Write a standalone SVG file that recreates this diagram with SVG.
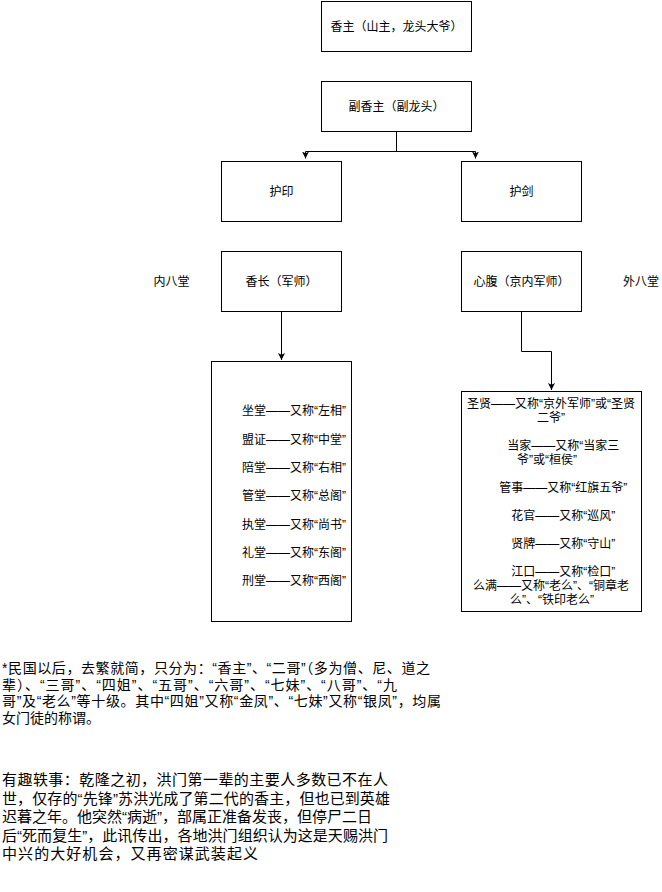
<svg xmlns="http://www.w3.org/2000/svg" width="662" height="892" viewBox="0 0 662 892">
<style>
.box{fill:#fff;stroke:#000;stroke-width:1}
.t{font-family:"Liberation Sans","Noto Sans CJK SC",sans-serif;font-size:12px;fill:#000}
.c{text-anchor:middle}
.p1{font-size:14px}
.p2{font-size:15px}
.edge{fill:none;stroke:#000;stroke-width:1}
</style>
<defs>
<marker id="arr" markerUnits="userSpaceOnUse" viewBox="0 0 7 7" refX="7" refY="3.5" markerWidth="7" markerHeight="7" orient="auto">
<path d="M0,0 L7,3.5 L0,7 L1.75,3.5 Z" fill="#000"/>
</marker>
</defs>
<rect width="662" height="892" fill="#fff"/>
<g id="connectors">
<path class="edge" d="M396.5,131.5 V151.5 H305.5 V158.5" marker-end="url(#arr)"/>
<path class="edge" d="M396.5,131.5 V151.5 H475.5 V158.5" marker-end="url(#arr)"/>
<path class="edge" d="M281.5,311.5 V360" marker-end="url(#arr)"/>
<path class="edge" d="M521.5,311.5 V351.5 H551.5 V390" marker-end="url(#arr)"/>
</g>
<g id="xiangzhu">
<rect class="box" x="321.5" y="1.5" width="150" height="50"/>
<text class="t c" x="396.5" y="31">香主（山主，龙头大爷）</text>
</g>
<g id="fuxiangzhu">
<rect class="box" x="321.5" y="81.5" width="150" height="50"/>
<text class="t c" x="396.5" y="111">副香主（副龙头）</text>
</g>
<g id="huyin">
<rect class="box" x="221.5" y="161.5" width="120" height="60"/>
<text class="t c" x="281.5" y="196">护印</text>
</g>
<g id="hujian">
<rect class="box" x="461.5" y="161.5" width="120" height="60"/>
<text class="t c" x="521.5" y="196">护剑</text>
</g>
<g id="xiangzhang">
<rect class="box" x="221.5" y="251.5" width="120" height="60"/>
<text class="t c" x="281.5" y="286">香长（军师）</text>
</g>
<g id="xinfu">
<rect class="box" x="461.5" y="251.5" width="120" height="60"/>
<text class="t c" x="521.5" y="286">心腹（京内军师）</text>
</g>
<g id="label-nei">
<text class="t c" x="171.5" y="286">内八堂</text>
</g>
<g id="label-wai">
<text class="t c" x="641" y="286">外八堂</text>
</g>
<g id="neibatang">
<rect class="box" x="211.5" y="361.5" width="140" height="260"/>
<text class="t c" x="294" y="415">坐堂——又称“左相”</text>
<text class="t c" x="294" y="443.5">盟证——又称“中堂”</text>
<text class="t c" x="294" y="472">陪堂——又称“右相”</text>
<text class="t c" x="294" y="500">管堂——又称“总阁”</text>
<text class="t c" x="294" y="528.5">执堂——又称“尚书”</text>
<text class="t c" x="294" y="557">礼堂——又称“东阁”</text>
<text class="t c" x="294" y="585">刑堂——又称“西阁”</text>
</g>
<g id="waibatang">
<rect class="box" x="461.5" y="391.5" width="180" height="220"/>
<text class="t c" x="551" y="408">圣贤——又称“京外军师”或“圣贤</text>
<text class="t c" x="551" y="422">二爷”</text>
<text class="t c" x="563.3" y="450">当家——又称“当家三</text>
<text class="t c" x="547" y="464">爷”或“桓侯”</text>
<text class="t c" x="563.3" y="492">管事——又称“红旗五爷”</text>
<text class="t c" x="563.3" y="520">花官——又称“巡风”</text>
<text class="t c" x="563.3" y="548">贤牌——又称“守山”</text>
<text class="t c" x="563.3" y="576">江口——又称“检口”</text>
<text class="t c" x="551" y="590">么满——又称“老么”、“铜章老</text>
<text class="t c" x="552" y="604">么”、“铁印老么”</text>
</g>
<g id="note1">
<text class="t p1" x="2" y="673" textLength="428">*民国以后，去繁就简，只分为：“香主”、“二哥”（多为僧、尼、道之</text>
<text class="t p1" x="2" y="689.5" textLength="395">辈）、“三哥”、“四姐”、“五哥”、“六哥”、“七妹”、“八哥”、“九</text>
<text class="t p1" x="2" y="706" textLength="439">哥”及“老么”等十级。其中“四姐”又称“金凤”、“七妹”又称“银凤”，均属</text>
<text class="t p1" x="2" y="722.5">女门徒的称谓。</text>
</g>
<g id="note2">
<text class="t p2" x="2" y="785" textLength="386">有趣轶事：乾隆之初，洪门第一辈的主要人多数已不在人</text>
<text class="t p2" x="2" y="803.5" textLength="388">世，仅存的“先锋”苏洪光成了第二代的香主，但也已到英雄</text>
<text class="t p2" x="2" y="822" textLength="370">迟暮之年。他突然“病逝”，部属正准备发丧，但停尸二日</text>
<text class="t p2" x="2" y="840.5" textLength="386">后“死而复生”，此讯传出，各地洪门组织认为这是天赐洪门</text>
<text class="t p2" x="2" y="859" textLength="256">中兴的大好机会，又再密谋武装起义</text>
</g>
</svg>
